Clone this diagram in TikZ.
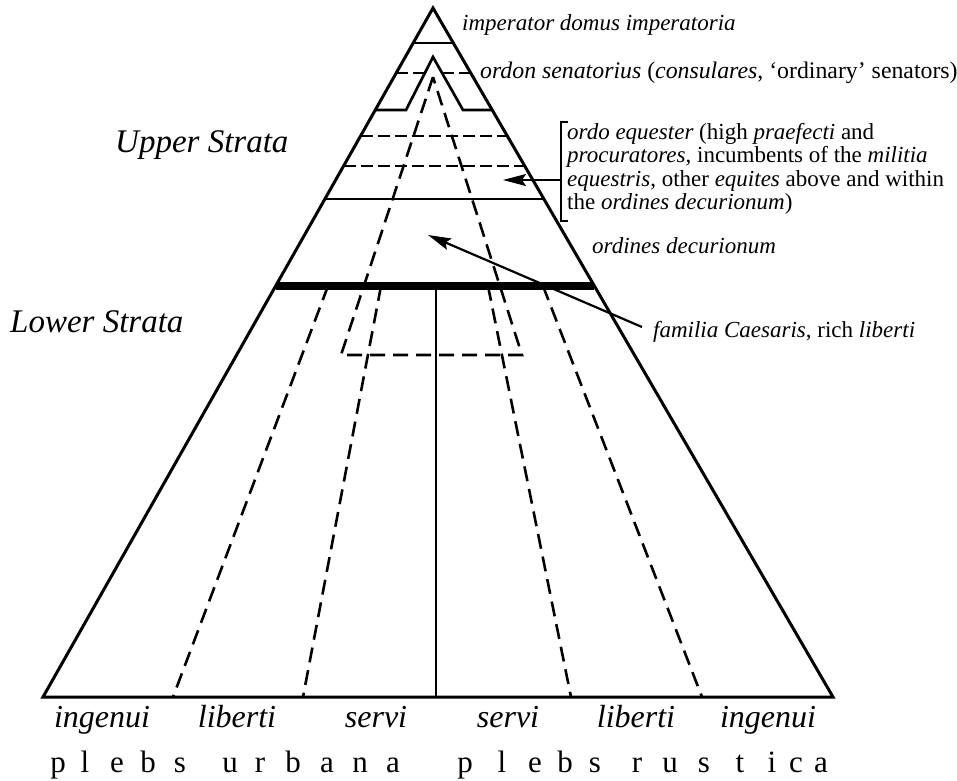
\documentclass[tikz,border=0pt]{standalone}
\usepackage{fontspec}
\setmainfont{Liberation Serif}
\usetikzlibrary{arrows.meta}

\begin{document}
\begin{tikzpicture}[
        x=1pt, y=-1pt, >={Stealth[length=23pt, width=12pt, inset=4pt]},
        outline/.style={line width=3pt, line join=miter},
        tier/.style={line width=2.7pt},
        split/.style={line width=2.6pt, dash pattern=on 15pt off 8pt},
        caste/.style={line width=8pt},
        pointer/.style={->, line width=2.2pt},
        bracket/.style={line width=1.3pt},
        rank/.style={font=\fontsize{23}{23.3}\selectfont\itshape, inner sep=0pt, anchor=base west},
        stratum/.style={font=\fontsize{33}{36}\selectfont\itshape, inner sep=0pt, anchor=base west},
        status/.style={font=\fontsize{32}{36}\selectfont\itshape, inner sep=0pt, anchor=base},
        plebs/.style={font=\fontsize{31}{34}\selectfont, inner sep=0pt, anchor=base},
    ]
    \useasboundingbox (0,0) rectangle (957,780);
    % pyramid corners
    \coordinate (apex) at (433,8);
    \coordinate (bl) at (43,697);
    \coordinate (br) at (833,697);
    % upper orders
    \draw[tier] (413.2,43)--(453.3,43);
    \draw[split, dash pattern=on 12pt off 5pt] (396.2,73)--(424.9,73);
    \draw[split, dash pattern=on 12pt off 5pt] (442.1,73)--(470.7,73);
    \draw[tier] (375.3,110)--(406,110)--(433,57)--(463,110)--(492.2,110);
    \draw[split, dash pattern=on 12pt off 5pt] (360.6,136)--(507.3,136);
    \draw[split, dash pattern=on 12pt off 5pt] (343.6,166)--(524.7,166);
    \draw[tier] (324.9,199)--(543.9,199);
    % familia Caesaris
    \draw[split] (433,77)--(341,355)--(522,355)--cycle;
    % lower strata
    \draw[split] (328,286)--(173,697);
    \draw[split] (381,286)--(303,697);
    \draw[split] (488,286)--(571,697);
    \draw[split] (543,286)--(702,697);
    \draw[tier] (436,286)--(436,697);
    \draw[caste] (275.6,286)--(594.4,286);
    \draw[outline] (apex)--(bl)--(br)--cycle;
    % labels
    \node[rank] (imperator) at (462,30) {imperator domus imperatoria};
    \node[rank, font=\fontsize{23.8}{24}\selectfont\itshape] (senatorius) at (480,78) {ordon senatorius \upshape(\itshape consulares\upshape, `ordinary' senators)};
    \node[rank, align=left, anchor=north west] (equester) at (567,123)
        {ordo equester \upshape(high \itshape praefecti\upshape{} and\\
         \itshape procuratores\upshape, incumbents of the \itshape militia\\
         \itshape equestris\upshape, other \itshape equites \upshape above and within\\
         \upshape the \itshape ordines decurionum\upshape)};
    \node[rank] (decurionum) at (592,253) {ordines decurionum};
    \node[rank] (familia) at (653,337) {familia Caesaris\upshape, rich \itshape liberti};
    \node[stratum] (upper) at (115,152) {Upper Strata};
    \node[stratum] (lower) at (10,332) {Lower Strata};
    % bracket and pointers
    \coordinate (brtop) at (561,122);
    \coordinate (brbot) at (561,221);
    \coordinate (brmid) at (561,180);
    \coordinate (eqtip) at (503,180);
    \coordinate (fctail) at (642,327);
    \coordinate (fctip) at (428,235);
    \draw[bracket] ([xshift=7pt]brtop)--(brtop)--(brbot)--([xshift=7pt]brbot);
    \draw[pointer] (brmid)--(eqtip);
    \draw[pointer] (fctail)--(fctip);
    % base labels
    \node[status] (ingL) at (102,727) {ingenui};
    \node[status] (libL) at (237,727) {liberti};
    \node[status] (serL) at (376,727) {servi};
    \node[status] (serR) at (508,727) {servi};
    \node[status] (libR) at (636,727) {liberti};
    \node[status] (ingR) at (768,727) {ingenui};
    \foreach \ch/\x in {p/58, l/85, e/117, b/148, s/180, u/230, r/260, b/293, a/327, n/360, a/393,
                        p/465, l/502, e/535, b/565, s/595, r/637, u/670, s/704, t/740, i/772, c/796, a/821}
        \node[plebs] (pl\x) at (\x,772) {\ch};
\end{tikzpicture}
\end{document}
